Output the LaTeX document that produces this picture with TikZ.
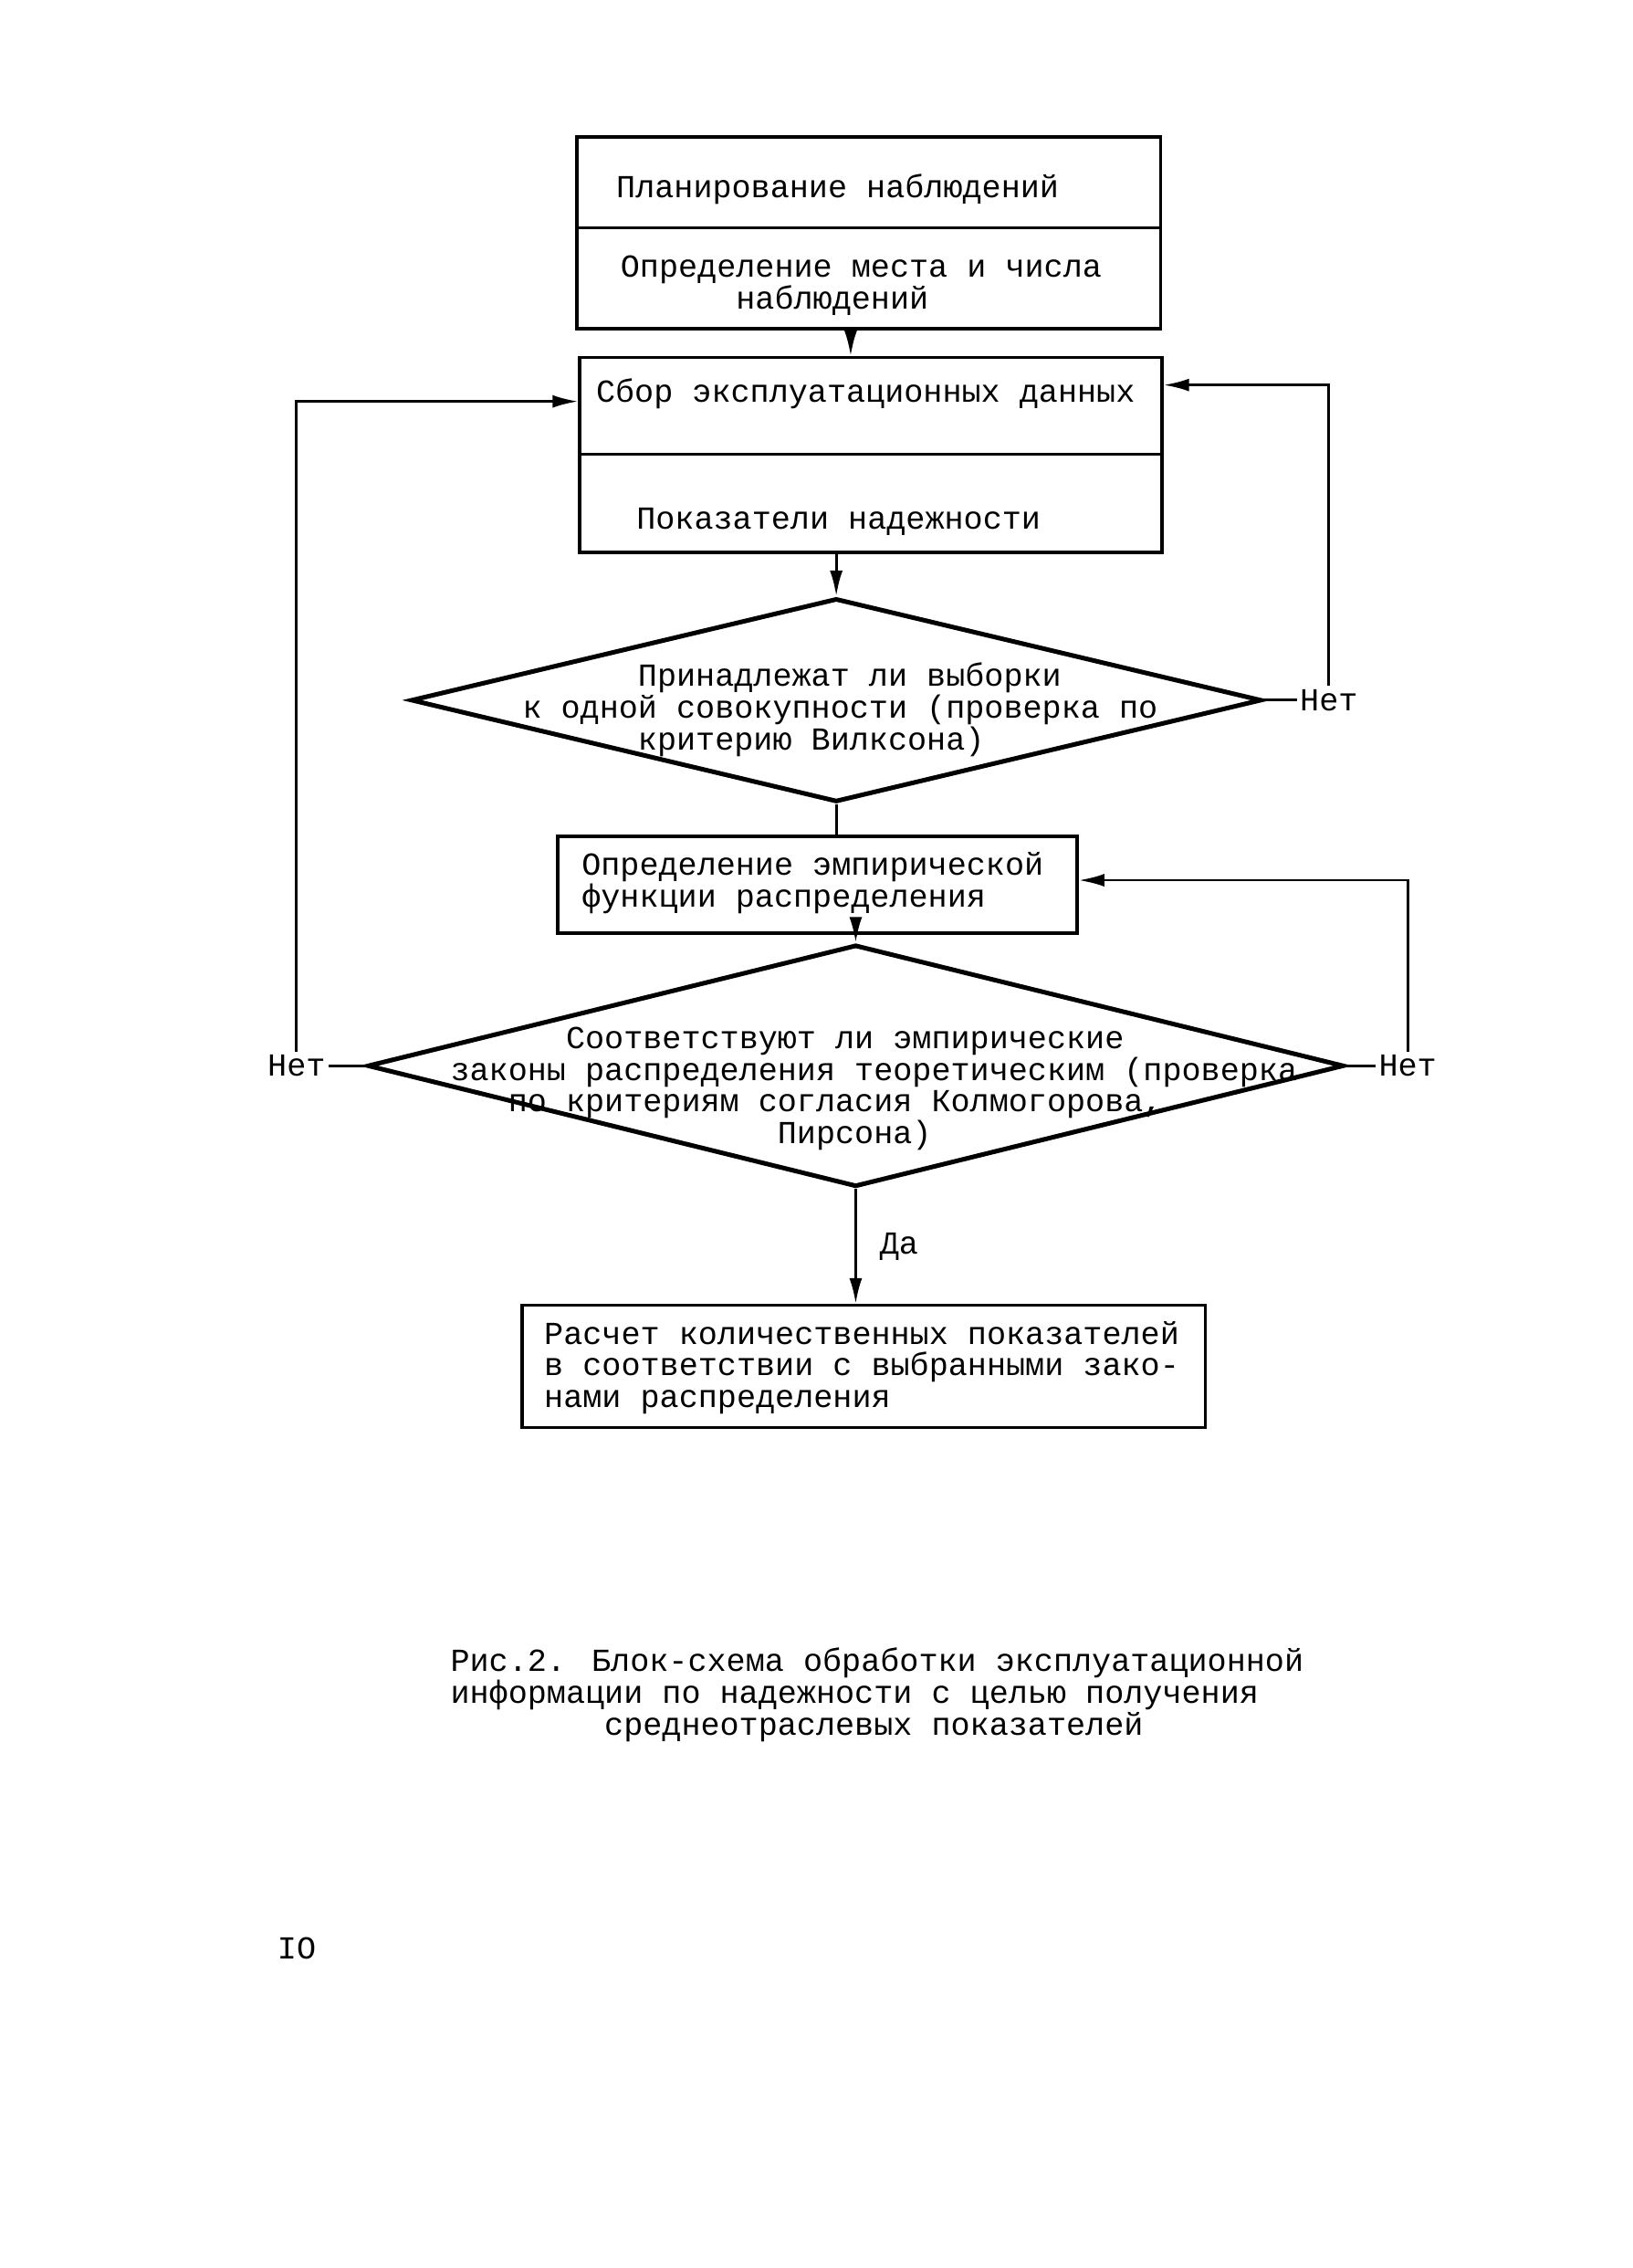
\documentclass[tikz,border=0pt]{standalone}
\usepackage{fontspec}
\newfontfamily\tw{Liberation Mono}
\usetikzlibrary{shapes.geometric, arrows.meta, positioning}
\newcommand{\twfont}{\tw\fontsize{10pt}{9.9pt}\selectfont}

\tikzset{
  box/.style={draw, rectangle, line width=0.35mm, inner sep=0pt},
  decision/.style={draw, diamond, line width=0.5mm, inner sep=0pt},
  txt/.style={font=\twfont, inner sep=0pt, anchor=base west, align=left},
  nolbl/.style={font=\twfont, inner sep=0.3mm},
  con/.style={line width=0.28mm},
  arr/.style={con, -{Latex[length=2.8mm, width=1.4mm]}}
}

\begin{document}
\begin{tikzpicture}[x=0.158mm, y=-0.158mm]
  \useasboundingbox (0,0) rectangle (1132,1572.6);

  %draw the frames of the blocks
  \foreach \name/\x/\y/\w/\h in {plan/602.5/126.5/64.0/9.95, place/602.5/193/64.0/11.06,
    collect/604/281.5/63.8/10.6, indic/604/349/63.8/10.74,
    emp/567/613.5/56.9/10.6, calc/599/947.5/74.9/13.4}
  \node[box, minimum width=\w mm, minimum height=\h mm] (\name) at (\x,\y) {};

  %draw the decision diamonds
  \node[decision, minimum width=93.2mm, minimum height=22.3mm] (check1) at (580,485.5) {};
  \node[decision, minimum width=107mm, minimum height=26.5mm] (check2) at (593.5,739) {};

  %texts of the blocks (base is the last line)
  \node[txt] (tplan) at (427,137) {Планирование наблюдений};
  \node[txt] (tplace) at (430,214) {Определение места и числа\\\hspace*{3.6em}наблюдений};
  \node[txt] (tcollect) at (413,279) {Сбор эксплуатационных данных};
  \node[txt] (tindic) at (441,367) {Показатели надежности};
  \node[txt] (tcheck1) at (362,520) {\hspace*{3.6em}Принадлежат ли выборки\\к одной совокупности (проверка по\\\hspace*{3.6em}критерию Вилксона)};
  \node[txt] (temp) at (403,629) {Определение эмпирической\\функции распределения};
  \node[txt] (tcheck2) at (312,793) {\hspace*{3.6em}Соответствуют ли эмпирические\\законы распределения теоретическим (проверка\\\hspace*{1.8em}по критериям согласия Колмогорова,\\\hspace*{10.2em}Пирсона)};
  \node[txt] (tcalc) at (377,976) {Расчет количественных показателей\\в соответствии с выбранными зако-\\нами распределения};

  %main line of arrows
  \coordinate (axis) at (590,0);
  \draw[arr] (place.south -| axis) -- (collect.north -| axis);
  \draw[arr] (indic.south -| check1.north) -- (check1.north);
  \draw[con] (check1.south) -- (check1.south |- emp.north);
  \draw[arr] (emp.south -| check2.north) -- (check2.north);
  \draw[arr] (check2.south) -- node[nolbl, right=2.2mm] (yes) {Да} (check2.south |- calc.north);

  %the "no" branches
  \node[nolbl, right=3.6mm of check1.east] (no1) {Нет};
  \node[nolbl, left=4mm of check2.west] (no2) {Нет};
  \node[nolbl, right=3.2mm of check2.east] (no3) {Нет};
  \draw[con] (check1.east) -- (no1.west);
  \draw[con] (check2.west) -- (no2.east);
  \draw[con] (check2.east) -- (no3.west);
  \draw[arr] (no1.north) |- ([yshift=2.3mm]collect.east);
  \draw[arr] (no2.north) |- ([yshift=0.5mm]collect.west);
  \draw[arr] (no3.north) |- ([yshift=0.5mm]emp.east);

  %caption and page number
  \node[txt] (caption) at (312,1203) {Рис.2. Блок-схема обработки эксплуатационной\\информации по надежности с целью получения\\\hspace*{4.8em}среднеотраслевых показателей};
  \node[txt] (pagenum) at (192,1358) {IO};
\end{tikzpicture}
\end{document}
